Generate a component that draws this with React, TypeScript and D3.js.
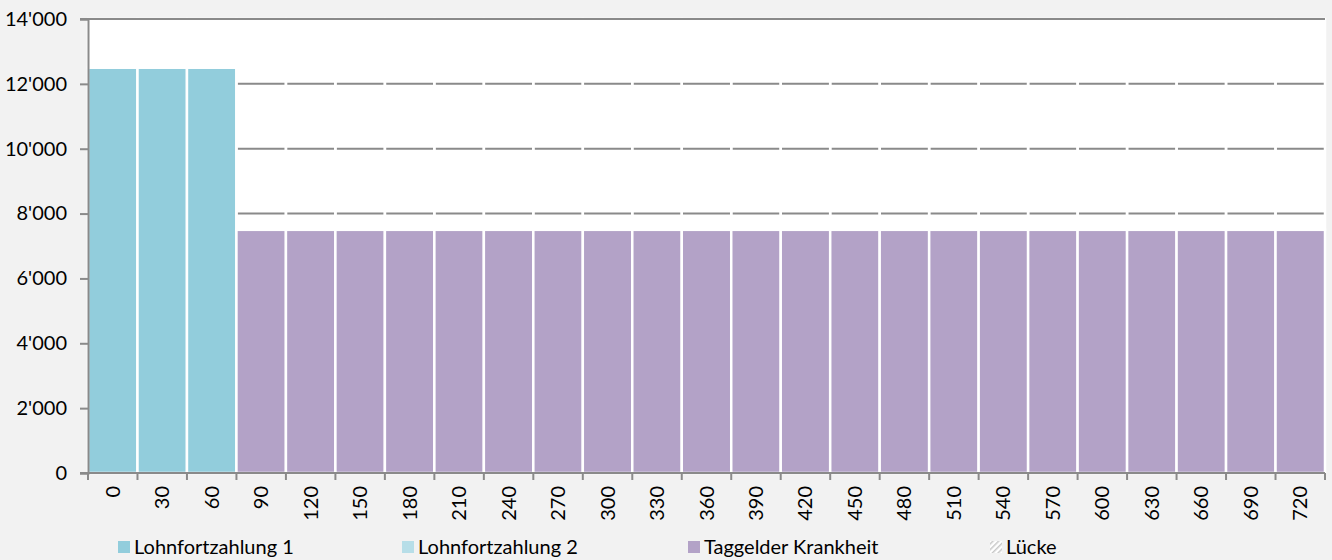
import { useEffect, useRef } from 'react';
import * as d3 from 'd3';

const categories = ['0', '30', '60', '90', '120', '150', '180', '210', '240', '270', '300', '330', '360', '390', '420', '450', '480', '510', '540', '570', '600', '630', '660', '690', '720'];
const lohn1 = [12500, 12500, 12500, 0, 0, 0, 0, 0, 0, 0, 0, 0, 0, 0, 0, 0, 0, 0, 0, 0, 0, 0, 0, 0, 0];
const lohn2 = [0, 0, 0, 0, 0, 0, 0, 0, 0, 0, 0, 0, 0, 0, 0, 0, 0, 0, 0, 0, 0, 0, 0, 0, 0];
const taggelder = [0, 0, 0, 7500, 7500, 7500, 7500, 7500, 7500, 7500, 7500, 7500, 7500, 7500, 7500, 7500, 7500, 7500, 7500, 7500, 7500, 7500, 7500, 7500, 7500];
const luecke = [1500, 1500, 1500, 6500, 6500, 6500, 6500, 6500, 6500, 6500, 6500, 6500, 6500, 6500, 6500, 6500, 6500, 6500, 6500, 6500, 6500, 6500, 6500, 6500, 6500];
const yTicks = [0, 2000, 4000, 6000, 8000, 10000, 12000, 14000];

const seriesNames = ['Lohnfortzahlung 1', 'Lohnfortzahlung 2', 'Taggelder Krankheit', 'Lücke'];
const seriesColors = ['#92cddc', '#b7dee8', '#b3a2c7', 'none'];

const W = 1332;
const H = 560;
const margin = { top: 19, right: 7, bottom: 87, left: 88 };
const FONT = 'Lato, "Open Sans", sans-serif';

const App = () => {
  const ref = useRef<SVGSVGElement>(null);

  useEffect(() => {
    const svg = d3.select(ref.current);
    svg.selectAll('*').remove();

    const x = d3
      .scaleBand()
      .domain(categories)
      .range([margin.left, W - margin.right])
      .padding(0);
    const y = d3
      .scaleLinear()
      .domain([0, 14000])
      .range([H - margin.bottom, margin.top]);

    // background + plot area
    svg.append('rect').attr('width', W).attr('height', H).attr('fill', '#f2f2f2');
    svg
      .append('rect')
      .attr('x', margin.left)
      .attr('y', margin.top)
      .attr('width', W - margin.left - margin.right)
      .attr('height', H - margin.top - margin.bottom)
      .attr('fill', '#ffffff');

    // pattern for the Lücke legend key
    const pat = svg
      .append('defs')
      .append('pattern')
      .attr('id', 'luecke')
      .attr('width', 4)
      .attr('height', 4)
      .attr('patternUnits', 'userSpaceOnUse')
      .attr('patternTransform', 'rotate(45)');
    pat.append('rect').attr('width', 4).attr('height', 4).attr('fill', '#ffffff');
    pat.append('rect').attr('width', 1.5).attr('height', 4).attr('fill', '#c8c8c8');

    // gridlines (top one is drawn later)
    svg
      .append('g')
      .selectAll('line')
      .data(yTicks.filter((t) => t > 0 && t < 14000))
      .enter()
      .append('line')
      .attr('x1', margin.left)
      .attr('x2', W - margin.right)
      .attr('y1', (d) => y(d))
      .attr('y2', (d) => y(d))
      .attr('stroke', '#8a8a8a')
      .attr('stroke-width', 2);

    // stacked bars
    const table = categories.map((c, i) => ({
      cat: c,
      s0: lohn1[i],
      s1: lohn2[i],
      s2: taggelder[i],
      s3: luecke[i],
    }));
    const stack = d3.stack<any>().keys(['s0', 's1', 's2', 's3'])(table);

    stack.forEach((layer, k) => {
      svg
        .append('g')
        .selectAll('rect')
        .data(layer.filter((d) => d[1] - d[0] > 0))
        .enter()
        .append('rect')
        .attr('x', (d: any) => x(d.data.cat)!)
        .attr('width', x.bandwidth())
        .attr('y', (d) => y(d[1]))
        .attr('height', (d) => y(d[0]) - y(d[1]))
        .attr('fill', seriesColors[k])
        .attr('stroke', '#ffffff')
        .attr('stroke-width', 2.5);
    });

    // top line at 14'000
    svg
      .append('line')
      .attr('x1', margin.left - 8)
      .attr('x2', W - margin.right)
      .attr('y1', y(14000))
      .attr('y2', y(14000))
      .attr('stroke', '#8a8a8a')
      .attr('stroke-width', 2);

    // y axis
    const yAxis = svg
      .append('g')
      .attr('transform', `translate(${margin.left},0)`)
      .call(
        d3
          .axisLeft(y)
          .tickValues(yTicks)
          .tickSize(8)
          .tickPadding(13)
          .tickFormat((d: any) => d3.format(',')(d).replace(/,/g, "'"))
      );
    yAxis.select('.domain').attr('stroke', '#8a8a8a').attr('stroke-width', 2);
    yAxis.selectAll('.tick line').attr('stroke', '#8a8a8a').attr('stroke-width', 2);
    yAxis
      .selectAll('.tick text')
      .attr('fill', '#000')
      .style('font', `20px ${FONT}`);

    // x axis line + ticks at band boundaries
    const xg = svg.append('g');
    xg.append('line')
      .attr('x1', margin.left - 8)
      .attr('x2', W - margin.right)
      .attr('y1', y(0))
      .attr('y2', y(0))
      .attr('stroke', '#8a8a8a')
      .attr('stroke-width', 2);
    xg.selectAll('line.tk')
      .data(categories.concat(['end']))
      .enter()
      .append('line')
      .attr('class', 'tk')
      .attr('x1', (d) => (d === 'end' ? W - margin.right : x(d)!))
      .attr('x2', (d) => (d === 'end' ? W - margin.right : x(d)!))
      .attr('y1', y(0))
      .attr('y2', y(0) + 7)
      .attr('stroke', '#8a8a8a')
      .attr('stroke-width', 2);
    xg.selectAll('text')
      .data(categories)
      .enter()
      .append('text')
      .attr(
        'transform',
        (d) => `translate(${x(d)! + x.bandwidth() / 2},${y(0) + 13}) rotate(-90)`
      )
      .attr('text-anchor', 'end')
      .attr('dy', '0.35em')
      .style('font', `20px ${FONT}`)
      .text((d) => d);

    // legend
    const legendX = [118, 402, 688, 990];
    const lg = svg.append('g');
    seriesNames.forEach((name, i) => {
      lg.append('rect')
        .attr('x', legendX[i])
        .attr('y', 541)
        .attr('width', 12)
        .attr('height', 12)
        .attr('fill', i === 3 ? 'url(#luecke)' : seriesColors[i]);
      lg.append('text')
        .attr('x', legendX[i] + 16)
        .attr('y', 554)
        .style('font', `20px ${FONT}`)
        .text(name);
    });
  }, []);

  return (
    <svg
      width={W}
      height={H}
      ref={ref}
      style={{ display: 'block', position: 'absolute', left: 0, top: 0 }}
    />
  );
};

export default App;
